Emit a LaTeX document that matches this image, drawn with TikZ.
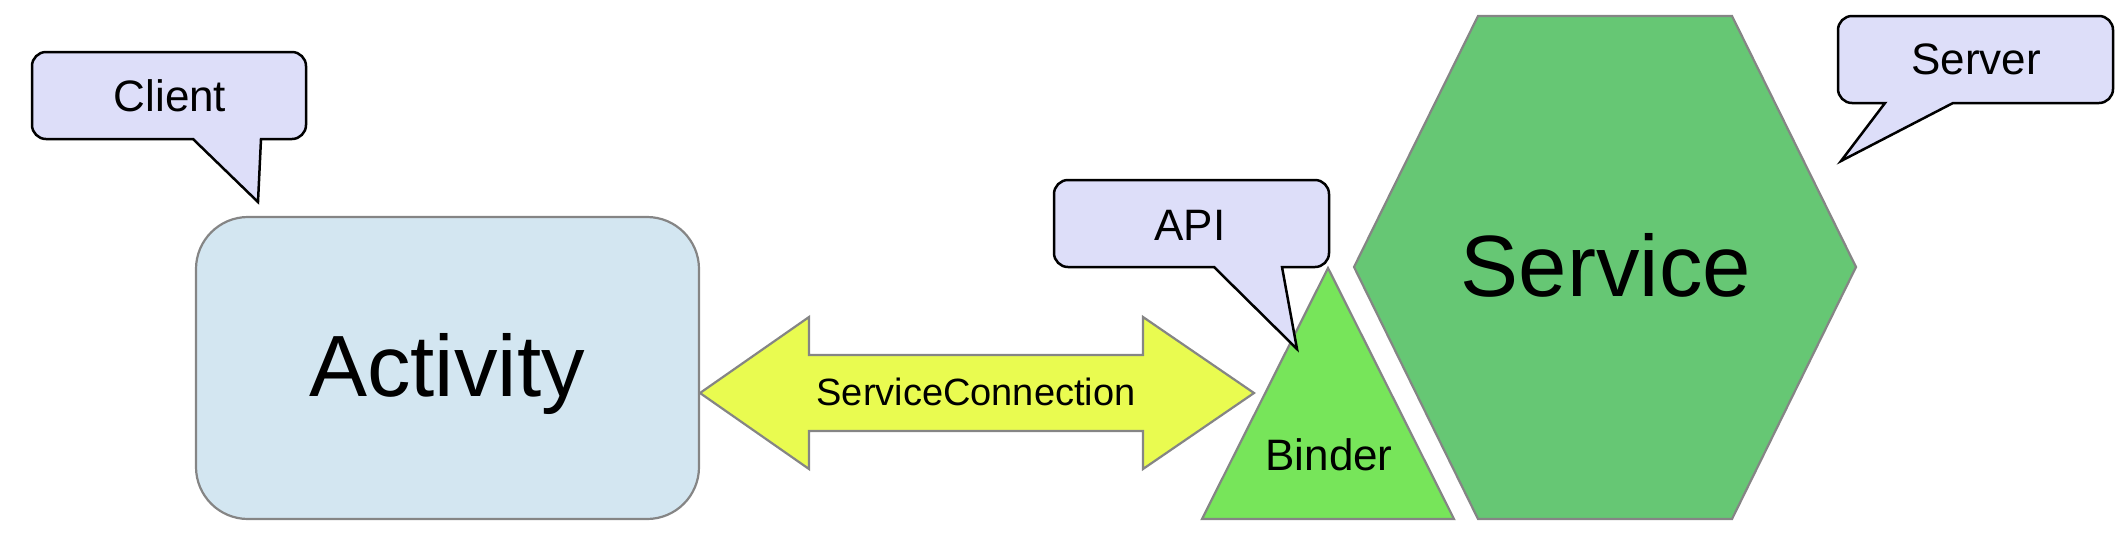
\documentclass[tikz,border=0pt]{standalone}
\usepackage{fontspec}
\setmainfont{Liberation Sans}
\definecolor{callfill}{HTML}{DDDEF9}
\definecolor{actfill}{HTML}{D3E6F1}
\definecolor{arrfill}{HTML}{E9FB50}
\definecolor{bindfill}{HTML}{77E55A}
\definecolor{servfill}{HTML}{66C774}
\definecolor{edgegray}{HTML}{858585}
\tikzset{
  callout/.style={draw=black, fill=callfill, line width=2.5pt, line join=miter},
  shapebox/.style={draw=edgegray, line width=2.2pt, line join=miter},
  smalltxt/.style={font=\fontsize{44}{50}\selectfont, anchor=base, inner sep=0pt},
  midtxt/.style={font=\fontsize{38}{44}\selectfont, anchor=base, inner sep=0pt},
  bigtxt/.style={font=\fontsize{87}{96}\selectfont, anchor=base, inner sep=0pt},
}
\begin{document}
\begin{tikzpicture}[x=1pt, y=-1pt]
\useasboundingbox (0,0) rectangle (2122,542);
% Activity
\node[shapebox, fill=actfill, rectangle, rounded corners=52pt, minimum width=503pt, minimum height=302pt, inner sep=0pt] (act) at (447.5,368) {};
\node[bigtxt] (acttxt) at (447,396) {Activity};
% double arrow
\path[shapebox, fill=arrfill] (700,393) -- (809,317) -- (809,355) -- (1143,355) -- (1143,317) -- (1254,393) -- (1143,469) -- (1143,431) -- (809,431) -- (809,469) -- cycle;
\node[midtxt] (conn) at (976,405) {ServiceConnection};
% Binder
\path[shapebox, fill=bindfill] (1202,519) -- (1328,268) -- (1454,519) -- cycle;
\node[smalltxt] (binder) at (1329,470) {Binder};
% Service
\path[shapebox, fill=servfill] (1354,267) -- (1478,16) -- (1732,16) -- (1856,267) -- (1732,519) -- (1478,519) -- cycle;
\node[bigtxt] (service) at (1606,296) {Service};
% Client callout
\path[callout] (193,139) -- (46,139) .. controls (38.3,139) and (32,132.7) .. (32,125) -- (32,66) .. controls (32,58.3) and (38.3,52) .. (46,52) -- (292,52) .. controls (299.7,52) and (306,58.3) .. (306,66) -- (306,125) .. controls (306,132.7) and (299.7,139) .. (292,139) -- (261,139) -- (258,202) -- cycle;
\node[smalltxt] (client) at (170,111) {Client};
% API callout
\path[callout] (1214,267) -- (1068,267) .. controls (1060.3,267) and (1054,260.7) .. (1054,253) -- (1054,194) .. controls (1054,186.3) and (1060.3,180) .. (1068,180) -- (1315,180) .. controls (1322.7,180) and (1329,186.3) .. (1329,194) -- (1329,253) .. controls (1329,260.7) and (1322.7,267) .. (1315,267) -- (1282,267) -- (1297,349) -- cycle;
\node[smalltxt] (api) at (1190,240) {API};
% Server callout
\path[callout] (1885,103) -- (1852,103) .. controls (1844.3,103) and (1838,96.7) .. (1838,89) -- (1838,30) .. controls (1838,22.3) and (1844.3,16) .. (1852,16) -- (2099,16) .. controls (2106.7,16) and (2113,22.3) .. (2113,30) -- (2113,89) .. controls (2113,96.7) and (2106.7,103) .. (2099,103) -- (1953,103) -- (1841,161) -- cycle;
\node[smalltxt] (server) at (1976,74) {Server};
\end{tikzpicture}
\end{document}
